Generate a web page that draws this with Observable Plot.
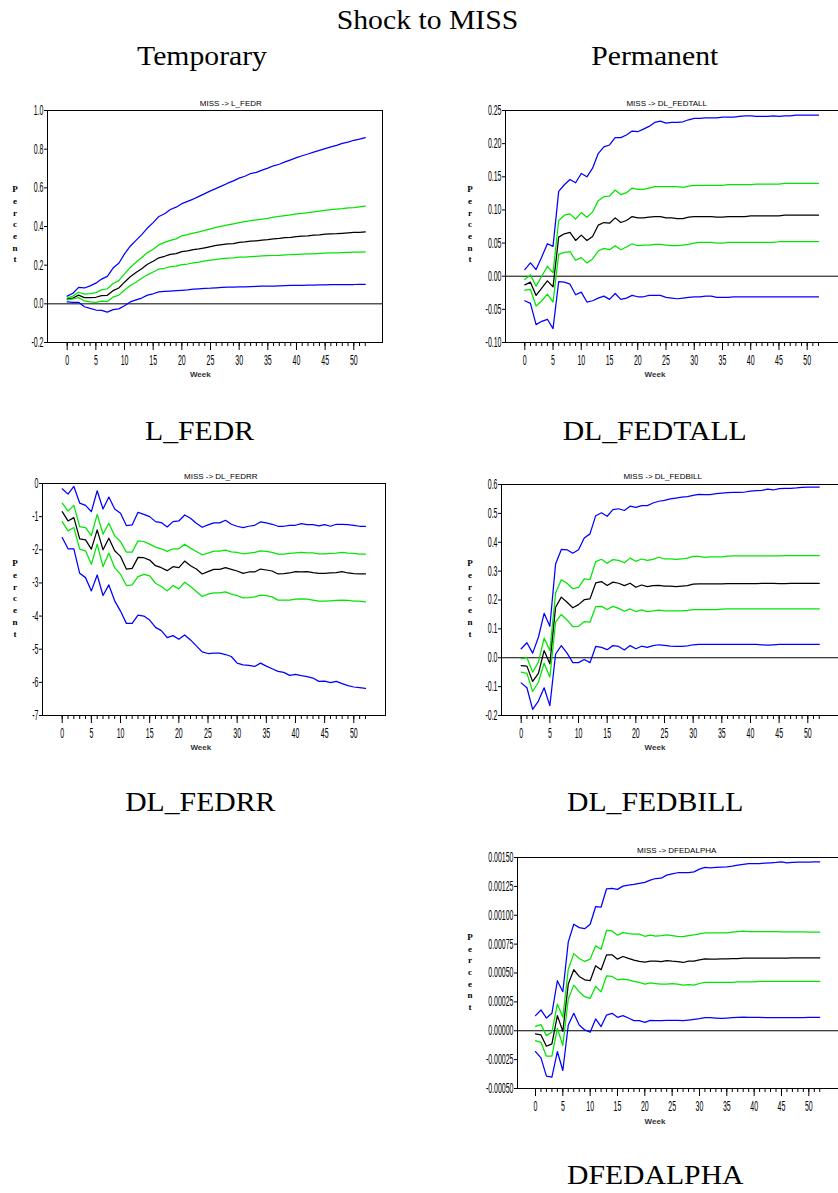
<!DOCTYPE html>
<html>
<head>
<meta charset="utf-8">
<script src="https://cdn.jsdelivr.net/npm/d3@7"></script>
<script src="https://cdn.jsdelivr.net/npm/@observablehq/plot@0.6"></script>
<style>
  body { margin: 0; background: #fff; }
  #fig { position: relative; width: 838px; height: 1193px; overflow: hidden; background: #fff; }
  #fig svg { position: absolute; }
  .tex { position: absolute; font-family: "Liberation Serif", "Times New Roman", serif; font-size: 27px; line-height: 27px; text-align: center; white-space: nowrap; color: #000; }
  .tex span { display: inline-block; transform: scaleX(1.1); }
  .ptitle { position: absolute; font-family: "Liberation Sans", Arial, sans-serif; font-size: 8px; line-height: 8px; text-align: center; white-space: nowrap; color: #000; }
  .week { position: absolute; font-family: "Liberation Sans", Arial, sans-serif; font-size: 8px; line-height: 8px; font-weight: bold; text-align: center; color: #333; }
  .percent { position: absolute; width: 6px; font-family: "Liberation Serif", serif; font-weight: bold; font-size: 9px; line-height: 11.67px; text-align: center; word-break: break-all; color: #000; }
</style>
</head>
<body>
<div id="fig"></div>
<script>
// Weeks after the shock
const weeks = d3.range(0, 53);
const weekLabels = [0, 5, 10, 15, 20, 25, 30, 35, 40, 45, 50];

const figTitle = "Shock to MISS";
const columnHeads = ["Temporary", "Permanent"];

// ---- L_FEDR (temporary) ----
const lFedrOuterHi = [0.040,0.055,0.085,0.082,0.093,0.107,0.128,0.142,0.185,0.210,0.258,0.298,0.328,0.358,0.392,0.420,0.452,0.466,0.488,0.500,0.518,0.530,0.542,0.556,0.570,0.584,0.597,0.610,0.624,0.636,0.650,0.660,0.674,0.680,0.692,0.702,0.714,0.722,0.734,0.745,0.756,0.766,0.775,0.785,0.794,0.803,0.812,0.820,0.830,0.836,0.846,0.852,0.860];
const lFedrInnerHi = [0.030,0.040,0.060,0.050,0.053,0.058,0.072,0.078,0.105,0.120,0.155,0.188,0.215,0.240,0.265,0.282,0.305,0.318,0.328,0.336,0.352,0.358,0.366,0.372,0.380,0.388,0.396,0.402,0.408,0.414,0.420,0.425,0.430,0.434,0.438,0.442,0.448,0.452,0.456,0.460,0.465,0.468,0.472,0.476,0.480,0.484,0.487,0.490,0.492,0.496,0.498,0.502,0.505];
const lFedrPoint = [0.025,0.030,0.045,0.032,0.032,0.034,0.042,0.044,0.068,0.082,0.112,0.140,0.162,0.182,0.205,0.220,0.238,0.246,0.256,0.260,0.270,0.274,0.280,0.284,0.290,0.296,0.302,0.306,0.310,0.312,0.318,0.320,0.324,0.326,0.330,0.332,0.336,0.338,0.342,0.344,0.348,0.350,0.352,0.355,0.357,0.360,0.362,0.363,0.365,0.367,0.369,0.370,0.372];
const lFedrInnerLo = [0.020,0.025,0.032,0.015,0.010,0.008,0.014,0.012,0.035,0.045,0.072,0.095,0.112,0.132,0.150,0.165,0.180,0.184,0.192,0.195,0.203,0.206,0.212,0.216,0.222,0.226,0.230,0.234,0.236,0.238,0.241,0.242,0.244,0.246,0.248,0.249,0.250,0.251,0.253,0.254,0.256,0.257,0.258,0.259,0.261,0.262,0.263,0.264,0.265,0.266,0.267,0.268,0.269];
const lFedrOuterLo = [0.010,0.008,0.008,-0.015,-0.024,-0.032,-0.034,-0.043,-0.030,-0.026,-0.010,0.010,0.020,0.030,0.045,0.052,0.062,0.064,0.066,0.068,0.070,0.072,0.076,0.078,0.080,0.081,0.083,0.085,0.086,0.087,0.088,0.088,0.089,0.090,0.091,0.092,0.092,0.093,0.094,0.095,0.096,0.096,0.097,0.097,0.098,0.098,0.099,0.099,0.100,0.100,0.100,0.101,0.101];
const lFedrTicks = [-0.2, 0.0, 0.2, 0.4, 0.6, 0.8, 1.0];

// ---- DL_FEDTALL (permanent) ----
const fedtallOuterHi = [0.010,0.020,0.010,0.029,0.049,0.045,0.128,0.138,0.146,0.141,0.155,0.150,0.163,0.185,0.195,0.198,0.209,0.209,0.213,0.219,0.218,0.222,0.226,0.232,0.234,0.231,0.232,0.232,0.233,0.236,0.238,0.238,0.239,0.239,0.239,0.240,0.240,0.240,0.241,0.242,0.242,0.241,0.241,0.241,0.242,0.241,0.242,0.242,0.243,0.243,0.243,0.243,0.243];
const fedtallInnerHi = [-0.005,0.002,-0.015,0.000,0.015,0.005,0.084,0.092,0.094,0.086,0.096,0.089,0.097,0.114,0.120,0.121,0.130,0.123,0.126,0.133,0.131,0.131,0.133,0.135,0.135,0.135,0.135,0.135,0.134,0.136,0.137,0.137,0.137,0.137,0.137,0.137,0.138,0.138,0.138,0.138,0.138,0.139,0.139,0.139,0.139,0.139,0.140,0.140,0.140,0.140,0.140,0.140,0.140];
const fedtallPoint = [-0.013,-0.009,-0.029,-0.018,-0.007,-0.016,0.059,0.064,0.066,0.054,0.062,0.054,0.060,0.077,0.081,0.080,0.088,0.081,0.084,0.090,0.088,0.088,0.089,0.090,0.090,0.088,0.088,0.087,0.087,0.089,0.090,0.090,0.090,0.090,0.089,0.089,0.090,0.090,0.090,0.090,0.091,0.091,0.091,0.091,0.091,0.091,0.092,0.092,0.092,0.092,0.092,0.092,0.092];
const fedtallInnerLo = [-0.021,-0.020,-0.045,-0.037,-0.027,-0.039,0.033,0.036,0.037,0.024,0.028,0.020,0.026,0.038,0.042,0.040,0.046,0.040,0.044,0.049,0.046,0.047,0.047,0.048,0.048,0.047,0.046,0.046,0.047,0.048,0.050,0.051,0.051,0.051,0.050,0.050,0.051,0.051,0.051,0.051,0.051,0.051,0.051,0.051,0.051,0.052,0.052,0.052,0.052,0.052,0.052,0.052,0.052];
const fedtallOuterLo = [-0.037,-0.041,-0.073,-0.068,-0.065,-0.079,-0.008,-0.009,-0.012,-0.028,-0.024,-0.039,-0.037,-0.033,-0.030,-0.035,-0.026,-0.035,-0.033,-0.029,-0.031,-0.031,-0.029,-0.029,-0.029,-0.032,-0.033,-0.034,-0.033,-0.032,-0.031,-0.031,-0.030,-0.030,-0.032,-0.032,-0.032,-0.031,-0.031,-0.031,-0.031,-0.031,-0.031,-0.031,-0.031,-0.031,-0.031,-0.031,-0.031,-0.031,-0.031,-0.031,-0.031];
const fedtallTicks = [-0.10, -0.05, 0.00, 0.05, 0.10, 0.15, 0.20, 0.25];

// ---- DL_FEDRR (temporary) ----
const fedrrOuterHi = [-0.16,-0.32,-0.09,-0.59,-0.66,-0.85,-0.22,-0.77,-0.41,-0.77,-0.90,-1.27,-1.25,-0.87,-0.93,-1.00,-1.15,-1.18,-1.31,-1.15,-1.13,-0.95,-1.05,-1.20,-1.32,-1.25,-1.19,-1.19,-1.11,-1.23,-1.29,-1.33,-1.29,-1.26,-1.16,-1.19,-1.23,-1.29,-1.29,-1.26,-1.26,-1.21,-1.24,-1.24,-1.28,-1.24,-1.29,-1.23,-1.23,-1.24,-1.26,-1.29,-1.29];
const fedrrInnerHi = [-0.59,-0.83,-0.66,-1.30,-1.33,-1.57,-0.93,-1.53,-1.20,-1.58,-1.75,-2.07,-2.07,-1.73,-1.75,-1.83,-1.92,-1.97,-2.05,-1.97,-1.97,-1.83,-1.95,-2.05,-2.15,-2.10,-2.04,-2.04,-2.01,-2.06,-2.08,-2.12,-2.10,-2.08,-2.03,-2.05,-2.08,-2.13,-2.13,-2.11,-2.09,-2.08,-2.09,-2.09,-2.12,-2.12,-2.11,-2.10,-2.08,-2.10,-2.11,-2.13,-2.13];
const fedrrPoint = [-0.85,-1.13,-1.03,-1.67,-1.70,-1.98,-1.40,-2.00,-1.65,-2.03,-2.20,-2.58,-2.56,-2.23,-2.24,-2.31,-2.48,-2.54,-2.63,-2.51,-2.54,-2.34,-2.48,-2.58,-2.73,-2.66,-2.59,-2.59,-2.54,-2.59,-2.64,-2.71,-2.67,-2.67,-2.58,-2.61,-2.64,-2.73,-2.72,-2.70,-2.66,-2.67,-2.66,-2.69,-2.71,-2.71,-2.70,-2.69,-2.66,-2.70,-2.72,-2.73,-2.73];
const fedrrInnerLo = [-1.15,-1.43,-1.33,-1.98,-2.03,-2.44,-1.83,-2.51,-2.10,-2.54,-2.74,-3.08,-3.06,-2.81,-2.74,-2.79,-3.01,-3.11,-3.24,-3.08,-3.18,-2.98,-3.11,-3.26,-3.41,-3.34,-3.30,-3.30,-3.27,-3.34,-3.38,-3.45,-3.44,-3.42,-3.37,-3.38,-3.42,-3.52,-3.52,-3.52,-3.49,-3.48,-3.49,-3.52,-3.55,-3.55,-3.54,-3.53,-3.52,-3.53,-3.55,-3.55,-3.57];
const fedrrOuterLo = [-1.63,-1.97,-1.97,-2.71,-2.84,-3.24,-2.76,-3.38,-3.06,-3.54,-3.85,-4.22,-4.22,-3.97,-4.00,-4.12,-4.34,-4.44,-4.65,-4.59,-4.70,-4.57,-4.72,-4.90,-5.08,-5.13,-5.12,-5.12,-5.16,-5.22,-5.42,-5.47,-5.49,-5.52,-5.42,-5.51,-5.59,-5.67,-5.70,-5.79,-5.76,-5.80,-5.83,-5.87,-5.97,-5.96,-6.01,-5.97,-6.04,-6.10,-6.14,-6.16,-6.18];
const fedrrTicks = [-7, -6, -5, -4, -3, -2, -1, 0];

// ---- DL_FEDBILL (permanent) ----
const fedbillOuterHi = [0.031,0.052,0.016,0.071,0.154,0.109,0.325,0.375,0.374,0.362,0.374,0.415,0.429,0.492,0.502,0.490,0.513,0.516,0.510,0.525,0.521,0.527,0.527,0.536,0.542,0.545,0.550,0.553,0.556,0.558,0.562,0.566,0.565,0.565,0.568,0.570,0.572,0.573,0.573,0.574,0.577,0.579,0.580,0.584,0.581,0.586,0.587,0.587,0.588,0.590,0.591,0.591,0.591];
const fedbillInnerHi = [-0.004,0.000,-0.050,-0.015,0.068,0.025,0.224,0.270,0.258,0.239,0.244,0.273,0.271,0.333,0.341,0.327,0.340,0.337,0.329,0.345,0.334,0.342,0.337,0.341,0.348,0.342,0.342,0.341,0.342,0.345,0.351,0.351,0.348,0.349,0.349,0.349,0.352,0.353,0.353,0.353,0.353,0.353,0.353,0.353,0.353,0.353,0.354,0.354,0.354,0.354,0.354,0.354,0.354];
const fedbillPoint = [-0.027,-0.029,-0.082,-0.054,0.025,-0.021,0.175,0.210,0.192,0.173,0.184,0.201,0.204,0.259,0.264,0.250,0.262,0.258,0.250,0.258,0.244,0.252,0.246,0.250,0.251,0.248,0.248,0.246,0.248,0.250,0.255,0.256,0.256,0.256,0.256,0.256,0.257,0.257,0.257,0.257,0.257,0.257,0.258,0.258,0.258,0.257,0.257,0.258,0.258,0.258,0.258,0.258,0.258];
const fedbillInnerLo = [-0.050,-0.054,-0.117,-0.085,-0.019,-0.067,0.123,0.150,0.131,0.108,0.109,0.125,0.123,0.177,0.178,0.167,0.178,0.171,0.161,0.169,0.160,0.166,0.160,0.162,0.165,0.162,0.162,0.162,0.162,0.164,0.167,0.167,0.167,0.167,0.167,0.168,0.169,0.169,0.169,0.169,0.169,0.169,0.169,0.169,0.169,0.169,0.169,0.169,0.169,0.169,0.169,0.169,0.169];
const fedbillOuterLo = [-0.087,-0.104,-0.179,-0.150,-0.104,-0.166,0.013,0.042,0.016,-0.017,-0.017,-0.006,-0.017,0.039,0.036,0.028,0.042,0.039,0.027,0.042,0.031,0.040,0.036,0.042,0.045,0.043,0.040,0.039,0.039,0.041,0.045,0.046,0.046,0.046,0.046,0.046,0.046,0.046,0.046,0.046,0.046,0.046,0.045,0.044,0.045,0.046,0.046,0.046,0.046,0.046,0.046,0.046,0.046];
const fedbillTicks = [-0.2, -0.1, 0.0, 0.1, 0.2, 0.3, 0.4, 0.5, 0.6];

// ---- DFEDALPHA (permanent) ----
const alphaOuterHi = [0.000131,0.000180,0.000110,0.000151,0.000433,0.000338,0.000769,0.000922,0.000893,0.000884,0.000922,0.001074,0.001071,0.001229,0.001232,0.001224,0.001252,0.001261,0.001267,0.001276,0.001284,0.001304,0.001318,0.001321,0.001347,0.001359,0.001368,0.001370,0.001370,0.001376,0.001399,0.001414,0.001411,0.001414,0.001417,0.001419,0.001425,0.001434,0.001440,0.001446,0.001448,0.001448,0.001451,0.001454,0.001457,0.001463,0.001454,0.001457,0.001460,0.001460,0.001460,0.001463,0.001463];
const alphaInnerHi = [0.000038,0.000053,-0.000042,-0.000013,0.000231,0.000116,0.000533,0.000668,0.000625,0.000600,0.000620,0.000735,0.000706,0.000870,0.000864,0.000827,0.000850,0.000841,0.000836,0.000836,0.000818,0.000827,0.000820,0.000824,0.000830,0.000824,0.000818,0.000815,0.000824,0.000830,0.000839,0.000847,0.000847,0.000847,0.000847,0.000847,0.000853,0.000859,0.000862,0.000859,0.000859,0.000859,0.000859,0.000859,0.000859,0.000856,0.000856,0.000856,0.000856,0.000856,0.000853,0.000853,0.000853];
const alphaPoint = [-0.000028,-0.000036,-0.000134,-0.000114,0.000131,-0.000005,0.000404,0.000528,0.000470,0.000441,0.000433,0.000562,0.000528,0.000657,0.000657,0.000620,0.000643,0.000626,0.000611,0.000600,0.000594,0.000602,0.000602,0.000599,0.000608,0.000602,0.000599,0.000591,0.000602,0.000602,0.000614,0.000623,0.000620,0.000620,0.000623,0.000623,0.000625,0.000625,0.000628,0.000628,0.000628,0.000628,0.000628,0.000628,0.000628,0.000628,0.000628,0.000630,0.000630,0.000630,0.000630,0.000630,0.000630];
const alphaInnerLo = [-0.000085,-0.000100,-0.000220,-0.000220,0.000021,-0.000128,0.000275,0.000395,0.000337,0.000295,0.000280,0.000384,0.000337,0.000476,0.000470,0.000441,0.000447,0.000441,0.000427,0.000418,0.000404,0.000415,0.000409,0.000403,0.000403,0.000409,0.000403,0.000395,0.000400,0.000395,0.000409,0.000418,0.000418,0.000418,0.000418,0.000418,0.000418,0.000424,0.000424,0.000424,0.000424,0.000427,0.000427,0.000427,0.000427,0.000427,0.000427,0.000427,0.000427,0.000427,0.000427,0.000427,0.000427];
const alphaOuterLo = [-0.000180,-0.000235,-0.000393,-0.000402,-0.000180,-0.000344,0.000050,0.000151,0.000050,0.000007,-0.000013,0.000102,0.000036,0.000136,0.000151,0.000116,0.000131,0.000110,0.000088,0.000088,0.000073,0.000090,0.000087,0.000087,0.000090,0.000090,0.000090,0.000087,0.000093,0.000099,0.000105,0.000113,0.000113,0.000110,0.000108,0.000110,0.000113,0.000116,0.000119,0.000116,0.000116,0.000116,0.000114,0.000114,0.000114,0.000114,0.000114,0.000114,0.000114,0.000114,0.000116,0.000116,0.000116];
const alphaTicks = [-0.0005, -0.00025, 0, 0.00025, 0.0005, 0.00075, 0.001, 0.00125, 0.0015];

// Band colours: outer band blue, inner band green, point estimate black
const BLUE = "#0000ff", GREEN = "#00e600", BLACK = "#000000";

const fig = document.getElementById("fig");

function addDiv(cls, text, cx, cy, w, h) {
  const d = document.createElement("div");
  d.className = cls;
  d.style.left = (cx - w / 2) + "px";
  d.style.width = w + "px";
  d.style.top = (cy - h / 2) + "px";
  if (cls === "tex") {
    const s = document.createElement("span");
    s.textContent = text;
    d.appendChild(s);
  } else {
    d.textContent = text;
  }
  fig.appendChild(d);
  return d;
}

// Narrow the axis numerals horizontally, the way the statistical package prints them
function squeezeTickLabels(svg, sx) {
  svg.querySelectorAll('[aria-label$="tick label"] text').forEach(t => {
    const tr = t.getAttribute("transform") || "";
    t.setAttribute("transform", tr + ` scale(${sx},1)`);
  });
}

function drawPanel(p) {
  const ML = 70, MR = 10, MT = 10, MB = 40;
  const k = (p.x50 - p.x0) / 50;
  const width = p.fr - p.fl + ML + MR;
  const height = p.fb - p.ft + MT + MB;
  const bands = [
    {name: "outerHi", values: p.outerHi, color: BLUE},
    {name: "innerHi", values: p.innerHi, color: GREEN},
    {name: "point", values: p.point, color: BLACK},
    {name: "innerLo", values: p.innerLo, color: GREEN},
    {name: "outerLo", values: p.outerLo, color: BLUE}
  ];
  const table = bands.map(b => ({
    color: b.color,
    rows: b.values.map((v, i) => ({week: weeks[i], value: v}))
  }));
  const svg = Plot.plot({
    width, height,
    marginLeft: ML, marginRight: MR, marginTop: MT, marginBottom: MB,
    style: {background: "transparent", color: "#000", fontFamily: '"Liberation Sans", Arial, sans-serif', overflow: "visible"},
    x: {domain: [(p.fl - p.x0) / k, (p.fr - p.x0) / k]},
    y: {domain: p.yDomain},
    marks: [
      p.zero ? Plot.ruleY([0], {stroke: "#000", strokeWidth: 1}) : null,
      ...table.map(b => Plot.line(b.rows, {x: "week", y: "value", stroke: b.color, strokeWidth: 1.25})),
      Plot.frame({stroke: "#000", strokeWidth: 1}),
      Plot.axisY(p.ticks, {tickFormat: p.fmt, tickSize: 3, tickPadding: 1, fontSize: 14, label: null}),
      Plot.axisX(weeks, {tickSize: 4, tickFormat: () => "", label: null}),
      Plot.axisX(weekLabels, {tickSize: 8, tickPadding: 5, tickFormat: d => String(d), fontSize: 14, label: null})
    ]
  });
  svg.style.left = (p.fl - ML) + "px";
  svg.style.top = (p.ft - MT) + "px";
  squeezeTickLabels(svg, 0.5);
  fig.appendChild(svg);

  addDiv("ptitle", p.title, p.titleX, p.titleY, 140, 8);
  addDiv("week", "Week", p.weekX, p.weekY, 40, 8);
  const pc = document.createElement("div");
  pc.className = "percent";
  pc.textContent = "Percent";
  pc.style.left = (p.percentX - 3) + "px";
  pc.style.top = (p.percentY - 5.83) + "px";
  fig.appendChild(pc);
  addDiv("tex", p.caption, p.capX, p.capY, 300, 27);
}

const panels = [
  {title: "MISS -> L_FEDR", caption: "L_FEDR",
   outerHi: lFedrOuterHi, innerHi: lFedrInnerHi, point: lFedrPoint, innerLo: lFedrInnerLo, outerLo: lFedrOuterLo,
   ticks: lFedrTicks, fmt: d => d.toFixed(1), yDomain: [-0.2, 1.0], zero: true,
   fl: 47, fr: 382, ft: 110, fb: 342, x0: 66.7, x50: 353.3,
   titleX: 230.8, titleY: 104.3, weekX: 200.3, weekY: 375, percentX: 15, percentY: 190, capX: 200, capY: 431},
  {title: "MISS -> DL_FEDTALL", caption: "DL_FEDTALL",
   outerHi: fedtallOuterHi, innerHi: fedtallInnerHi, point: fedtallPoint, innerLo: fedtallInnerLo, outerLo: fedtallOuterLo,
   ticks: fedtallTicks, fmt: d => d.toFixed(2), yDomain: [-0.10, 0.25], zero: true,
   fl: 505, fr: 839, ft: 110, fb: 342, x0: 524.3, x50: 806.7,
   titleX: 666.7, titleY: 104.3, weekX: 655, weekY: 375, percentX: 470, percentY: 190, capX: 655, capY: 431},
  {title: "MISS -> DL_FEDRR", caption: "DL_FEDRR",
   outerHi: fedrrOuterHi, innerHi: fedrrInnerHi, point: fedrrPoint, innerLo: fedrrInnerLo, outerLo: fedrrOuterLo,
   ticks: fedrrTicks, fmt: d => String(d), yDomain: [-7, 0], zero: false,
   fl: 42, fr: 385, ft: 483, fb: 715, x0: 61.7, x50: 353.3,
   titleX: 220.8, titleY: 477.3, weekX: 200.8, weekY: 748.3, percentX: 15, percentY: 564.3, capX: 200, capY: 802},
  {title: "MISS -> DL_FEDBILL", caption: "DL_FEDBILL",
   outerHi: fedbillOuterHi, innerHi: fedbillInnerHi, point: fedbillPoint, innerLo: fedbillInnerLo, outerLo: fedbillOuterLo,
   ticks: fedbillTicks, fmt: d => d.toFixed(1), yDomain: [-0.2, 0.6], zero: true,
   fl: 501, fr: 839, ft: 484, fb: 715, x0: 520.7, x50: 807.3,
   titleX: 662.7, titleY: 477.3, weekX: 655, weekY: 748.3, percentX: 470, percentY: 564.3, capX: 655, capY: 802},
  {title: "MISS -> DFEDALPHA", caption: "DFEDALPHA",
   outerHi: alphaOuterHi, innerHi: alphaInnerHi, point: alphaPoint, innerLo: alphaInnerLo, outerLo: alphaOuterLo,
   ticks: alphaTicks, fmt: d => d.toFixed(5), yDomain: [-0.0005, 0.0015], zero: true,
   fl: 517, fr: 839, ft: 857, fb: 1088, x0: 535, x50: 808.3,
   titleX: 676.7, titleY: 850.7, weekX: 655, weekY: 1121.7, percentX: 470, percentY: 937.7, capX: 655, capY: 1175}
];

panels.forEach(drawPanel);

addDiv("tex", figTitle, 428, 20, 400, 27);
addDiv("tex", columnHeads[0], 202, 56, 300, 27);
addDiv("tex", columnHeads[1], 655, 56, 300, 27);
</script>
</body>
</html>
